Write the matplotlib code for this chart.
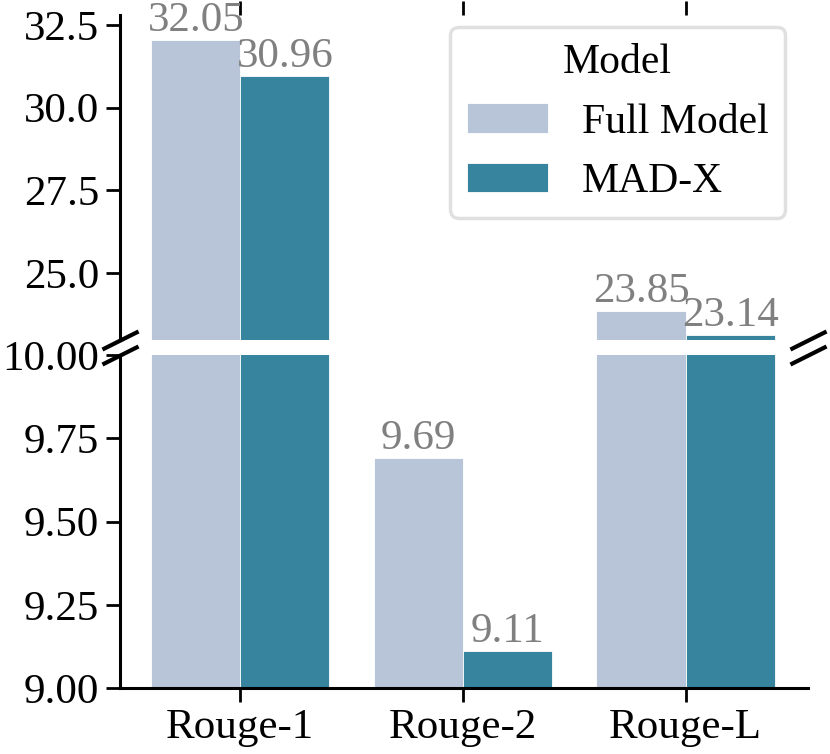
import matplotlib
matplotlib.use("Agg")
import matplotlib.pyplot as plt
import numpy as np

categories = ["Rouge-1", "Rouge-2", "Rouge-L"]
models = ["Full Model", "MAD-X"]
full_model = [32.05, 9.69, 23.85]
mad_x = [30.96, 9.11, 23.14]
colors = ["#b8c5d9", "#37849e"]

plt.rcParams['font.family'] = ['Liberation Serif', 'DejaVu Serif']
FS = 31
plt.rcParams['font.size'] = FS

fig = plt.figure(figsize=(8.3, 7.54), dpi=100)
left, right = 120/830, 808/830
ax_top = fig.add_axes([left, 1-340/754, right-left, (340-15)/754])
ax_bot = fig.add_axes([left, 1-688/754, right-left, (688-355)/754])

x = np.arange(len(categories))
w = 0.4
series = [full_model, mad_x]
top_lim = (22.98, 32.8)
bot_lim = (9.0, 10.0)

for ax, lim in [(ax_top, top_lim), (ax_bot, bot_lim)]:
    for k, vals in enumerate(series):
        xs = x + (k - 0.5) * w
        ax.bar(xs, vals, width=w, color=colors[k], edgecolor='white',
               linewidth=0.6, label=models[k])
        for xi, v in zip(xs, vals):
            if lim[0] < v <= lim[1]:
                ax.text(xi, v, f"{v:.2f}", ha='center', va='bottom',
                        color='#808080', fontsize=FS, clip_on=False)
    ax.set_ylim(*lim)
    ax.set_xlim(-0.54, 2.55)
    ax.tick_params(axis='both', length=10, width=2, labelsize=FS, pad=5)
    for s in ax.spines.values():
        s.set_linewidth(2.2)
    ax.spines['right'].set_visible(False)
    ax.spines['top'].set_visible(False)

ax_top.spines['bottom'].set_visible(False)
ax_top.xaxis.tick_top()
ax_top.set_xticks(x)
ax_top.tick_params(axis='x', labeltop=False, labelbottom=False)
ax_top.set_yticks([25.0, 27.5, 30.0, 32.5])

ax_bot.set_xticks(x)
ax_bot.set_xticklabels(categories)
ax_bot.set_yticks([9.0, 9.25, 9.5, 9.75, 10.0])

# break marks
d = 0.5
kw = dict(marker=[(-1, -d), (1, d)], markersize=26, linestyle='none',
          color='k', mec='k', mew=3, clip_on=False)
ax_top.plot([0, 1], [0, 0], transform=ax_top.transAxes, **kw)
ax_bot.plot([0, 1], [1, 1], transform=ax_bot.transAxes, **kw)

# legend
LFS = 30
bx1 = 785/830
by1 = 1 - 27/754
leg = ax_top.legend(title="Model", loc='upper right',
                    bbox_to_anchor=(bx1, by1), bbox_transform=fig.transFigure,
                    borderaxespad=0, fontsize=LFS, title_fontsize=LFS,
                    handlelength=1.95, handleheight=0.7, handletextpad=0.8,
                    frameon=True, fancybox=True, borderpad=0.4, labelspacing=0.5)
leg.get_frame().set_edgecolor('#d9d9d9')
leg.get_frame().set_linewidth(2.5)

fig.savefig("out.png", dpi=100)
